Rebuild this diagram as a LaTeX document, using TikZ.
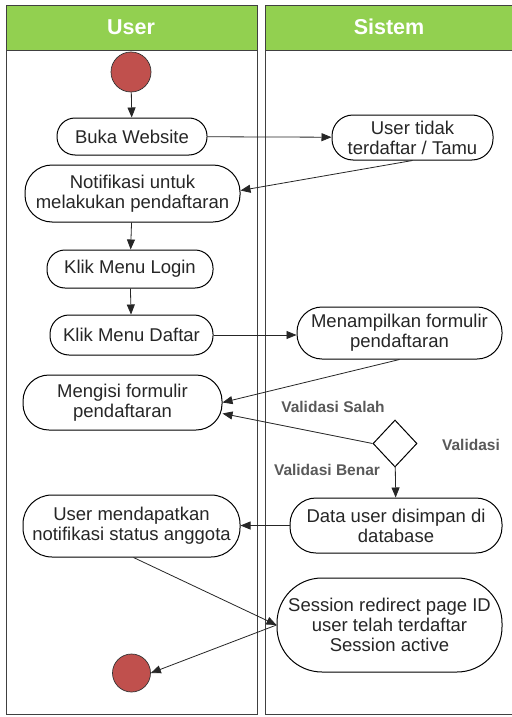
\documentclass[tikz,border=0pt]{standalone}
\usepackage{fontspec}
\setmainfont{Liberation Sans}
\usetikzlibrary{arrows.meta,shapes.geometric}
\definecolor{lanegreen}{HTML}{92D050}
\definecolor{dotred}{HTML}{C0504D}
\begin{document}
\begin{tikzpicture}[x=1pt,y=-1pt,
  lane/.style={draw=black!75,line width=0.9pt},
  header/.style={draw=black!75,line width=0.9pt,fill=lanegreen},
  act/.style={draw=black,line width=1pt,rounded corners=18pt,align=center,
    font=\fontsize{18.5}{20}\selectfont,text=black!85,inner sep=1pt},
  dot/.style={circle,draw=black!80,line width=0.7pt,fill=dotred,minimum size=40pt,inner sep=0pt},
  choice/.style={diamond,draw=black,line width=1pt,minimum width=44pt,minimum height=47pt,inner sep=0pt},
  flow/.style={draw=black!85,line width=0.8pt,-{Triangle[length=10pt,width=8pt]}},
  lbl/.style={font=\fontsize{15.5}{18}\selectfont\bfseries,text=black!65},
  head/.style={font=\fontsize{21.5}{24}\selectfont\bfseries,text=white}
]
\useasboundingbox (0,0) rectangle (511,717);
\fill[white] (0,0) rectangle (511,717);

% swimlanes
\draw[lane] (6,5) rectangle (257,714);
\draw[lane] (265,5) rectangle (513,714);
\draw[header] (6,5) rectangle (257,50);
\draw[header] (265,5) rectangle (513,50);
\node[head] (huser) at (131,27) {User};
\node[head] (hsis) at (389,27) {Sistem};

% nodes
\node[dot] (start) at (131,72) {};
\node[act,minimum width=150pt,minimum height=37pt] (buka) at (132,136.5) {Buka Website};
\node[act,minimum width=161pt,minimum height=45pt,rounded corners=21pt] (tamu) at (412.5,137.5) {User tidak\\terdaftar / Tamu};
\node[act,minimum width=215pt,minimum height=57pt,rounded corners=27pt] (notif) at (132.5,193.5) {Notifikasi untuk\\melakukan pendaftaran};
\node[act,minimum width=166pt,minimum height=38pt] (login) at (130,269) {Klik Menu Login};
\node[act,minimum width=163pt,minimum height=40pt,rounded corners=19pt] (daftar) at (131.5,335) {Klik Menu Daftar};
\node[act,minimum width=205pt,minimum height=52pt,rounded corners=25pt] (tampil) at (399.5,333) {Menampilkan formulir\\pendaftaran};
\node[act,minimum width=199pt,minimum height=55pt,rounded corners=26pt] (isi) at (122.5,402.5) {Mengisi formulir\\pendaftaran};
\node[choice] (val) at (395,443.5) {};
\node[act,minimum width=212pt,minimum height=55pt,rounded corners=26pt] (simpan) at (396,525.5) {Data user disimpan di\\database};
\node[act,minimum width=217pt,minimum height=62pt,rounded corners=29pt] (notifa) at (131.5,526) {User mendapatkan\\notifikasi status anggota};
\node[act,minimum width=225pt,minimum height=94pt,rounded corners=45pt] (sess) at (389.5,625) {Session redirect page ID\\user telah terdaftar\\Session active};
\node[dot,minimum size=38pt] (stop) at (131.5,673) {};

% guard labels
\node[lbl] (lsalah) at (333,407) {Validasi Salah};
\node[lbl] (lval) at (471,445) {Validasi};
\node[lbl] (lbenar) at (327,470) {Validasi Benar};

% control flow
\draw[flow] (start) -- (buka);
\draw[flow] (buka) -- (tamu);
\draw[flow] (tamu.south) -- ([yshift=3pt]notif.east);
\draw[flow] (notif) -- (login);
\draw[flow] (login) -- (daftar);
\draw[flow] (daftar.east) -- (daftar.east -| tampil.west);
\draw[flow] (tampil.south) -- (isi.east);
\draw[flow] (val.west) -- ([yshift=-11pt]isi.east);
\draw[flow] (val) -- (simpan);
\draw[flow] (simpan.west) -- (simpan.west -| notifa.east);
\draw[flow] ([xshift=2pt]notifa.south) -- (sess.west);
\draw[flow] (sess.west) -- (stop.east);
\end{tikzpicture}
\end{document}
